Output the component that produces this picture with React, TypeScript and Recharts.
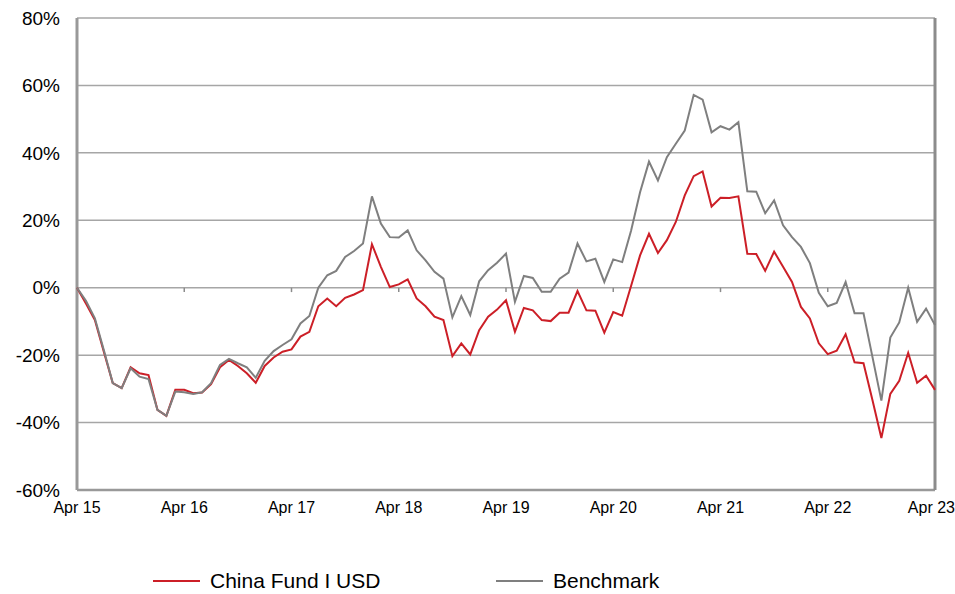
import React from "react";
import { CartesianGrid, Line, LineChart, ReferenceLine, XAxis, YAxis } from "recharts";

// monthly cumulative performance, Apr 2015 .. Apr 2023 (%)
const fundSeries = [
  0, -4.7, -9.6, -19.0, -28.3, -29.8, -23.6, -25.4, -25.9, -36.2, -38.0, -30.3,
  -30.3, -31.3, -31.1, -28.6, -23.6, -21.4, -23.2, -25.4, -28.2, -23.2, -20.7, -19.0,
  -18.3, -14.5, -13.1, -5.5, -3.2, -5.5, -3.0, -2.0, -0.7, 12.9, 6.2, 0.2,
  1.0, 2.5, -3.2, -5.5, -8.6, -9.6, -20.3, -16.5, -19.8, -12.6, -8.6, -6.5,
  -3.7, -13.1, -6.0, -6.7, -9.6, -9.9, -7.4, -7.4, -1.0, -6.7, -6.8, -13.3,
  -7.2, -8.3, 0.6, 9.6, 16.0, 10.3, 14.1, 19.5, 27.4, 33.1, 34.5, 24.1,
  26.7, 26.6, 27.1, 10.1, 10.0, 5.0, 10.7, 6.2, 1.7, -5.7, -9.1, -16.5,
  -19.7, -18.7, -13.8, -22.1, -22.4, -33.3, -44.6, -31.5, -27.6, -19.3, -28.2, -26.1,
  -30.3,
];

const benchSeries = [
  0, -3.9, -9.1, -18.5, -28.3, -29.8, -23.9, -26.4, -27.1, -36.2, -38.0, -30.8,
  -31.0, -31.5, -31.0, -28.3, -22.9, -21.1, -22.4, -23.6, -26.7, -21.7, -18.8, -17.0,
  -15.3, -10.6, -8.4, 0.0, 3.7, 5.0, 9.1, 10.9, 13.1, 27.1, 19.0, 15.0,
  14.9, 17.0, 11.1, 8.1, 4.7, 2.7, -8.8, -2.5, -8.1, 1.9, 5.2, 7.4,
  10.1, -4.2, 3.5, 2.9, -1.2, -1.2, 2.7, 4.5, 13.1, 7.8, 8.6, 1.7,
  8.4, 7.6, 17.0, 28.3, 37.4, 31.8, 38.7, 42.7, 46.6, 57.2, 55.8, 46.1,
  47.9, 46.9, 49.1, 28.6, 28.5, 22.1, 25.9, 18.5, 15.0, 12.1, 7.3, -1.5,
  -5.5, -4.5, 1.7, -7.6, -7.6, -20.5, -33.5, -14.8, -10.3, 0.0, -10.1, -6.2,
  -11.1,
];

const yearLabels = ["Apr 15", "Apr 16", "Apr 17", "Apr 18", "Apr 19", "Apr 20", "Apr 21", "Apr 22", "Apr 23"];
const yearTicks = yearLabels.map((_, i) => i * 12);
const yTicks = [-60, -40, -20, 0, 20, 40, 60, 80];

const data = fundSeries.map((v, i) => ({ m: i, fund: v, bench: benchSeries[i] }));

const FONT = '"Liberation Sans", Arial, sans-serif';
const RED = "#cc1f27";
const GREY = "#7f7f7f";

// year label; the last one is right-aligned so it ends at the window edge
function YearTick({ x, y, payload }: any) {
  const idx = Math.round(payload.value / 12);
  const last = idx === yearLabels.length - 1;
  return (
    <text
      x={last ? x + 20 : x}
      y={y}
      dy="0.71em"
      textAnchor={last ? "end" : "middle"}
      fontSize={16}
      fill="#000"
      fontFamily={FONT}
    >
      {yearLabels[idx]}
    </text>
  );
}

export default function App() {
  return (
    <div style={{ position: "relative", width: 955, height: 594, fontFamily: FONT, overflow: "hidden" }}>
      <style>{"body{margin:0}"}</style>
      <LineChart width={955} height={528} data={data} margin={{ top: 18, right: 20, bottom: 0, left: 0 }}>
        <CartesianGrid vertical={false} stroke="#a6a6a6" strokeWidth={1.5} />
        <XAxis
          type="number"
          dataKey="m"
          domain={[0, 96]}
          ticks={yearTicks}
          interval={0}
          tick={<YearTick />}
          tickLine={false}
          axisLine={false}
          tickSize={0}
          tickMargin={12}
          height={38}
        />
        <YAxis
          domain={[-60, 80]}
          ticks={yTicks}
          interval={0}
          tickFormatter={(v: number) => `${v}%`}
          tick={{ fontSize: 19, fill: "#000", fontFamily: FONT }}
          tickLine={false}
          axisLine={false}
          tickSize={0}
          tickMargin={17}
          width={77}
        />
        {yearTicks.map((t) => (
          <ReferenceLine
            key={t}
            segment={[{ x: t, y: 0 }, { x: t, y: -1.3 }]}
            stroke="#8c8c8c"
            strokeWidth={1.5}
          />
        ))}
        <ReferenceLine y={-60} stroke="#999" strokeWidth={2.5} />
        <ReferenceLine x={0} stroke="#999" strokeWidth={3} />
        <ReferenceLine x={96} stroke="#8c8c8c" strokeWidth={3} />
        <Line type="linear" dataKey="fund" stroke={RED} strokeWidth={2} dot={false} isAnimationActive={false} />
        <Line type="linear" dataKey="bench" stroke={GREY} strokeWidth={2} dot={false} isAnimationActive={false} />
      </LineChart>
      <LegendItem left={153} color={RED} label="China Fund I USD" />
      <LegendItem left={496} color={GREY} label="Benchmark" />
    </div>
  );
}

function LegendItem({ left, color, label }: { left: number; color: string; label: string }) {
  return (
    <div style={{ position: "absolute", left, top: 570, height: 22, display: "flex", alignItems: "center" }}>
      <span style={{ display: "inline-block", width: 47, height: 2, backgroundColor: color, marginRight: 10 }} />
      <span style={{ fontSize: 21, lineHeight: "22px", color: "#000" }}>{label}</span>
    </div>
  );
}
